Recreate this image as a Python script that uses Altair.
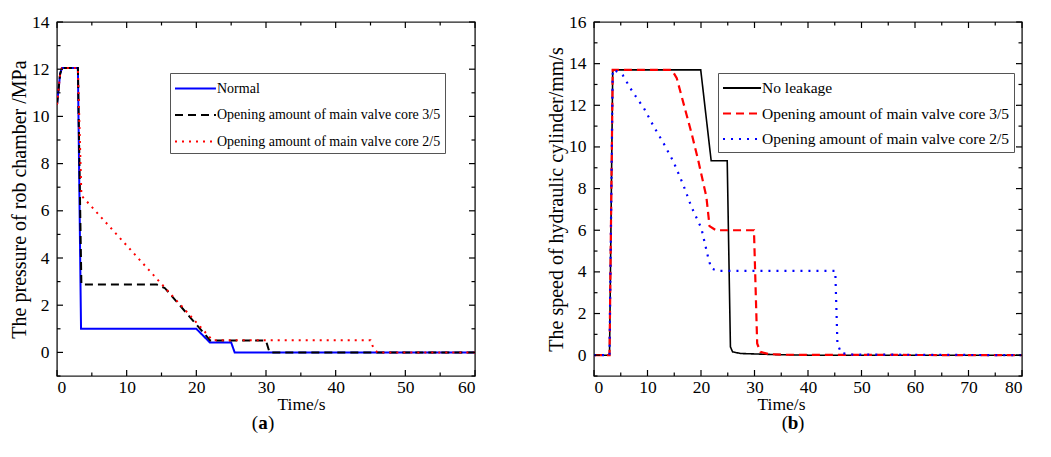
import altair as alt
import pandas as pd

FONT = "Liberation Serif"

# ---------------- Panel (a): pressure of rod chamber ----------------
a_series = ["Normal",
            "Opening amount of main valve core 3/5",
            "Opening amount of main valve core 2/5"]
a_colors = ["#0000ff", "#000000", "#ff0000"]
a_dashes = [[1, 0], [8, 5], [2, 5]]

a_t_normal = [0, 0.45, 0.7, 3.0, 3.45, 20.0, 21.95, 25.0, 25.5, 60]
a_p_normal = [10.5, 11.8, 12.05, 12.05, 1.0, 1.0, 0.42, 0.42, 0.0, 0.0]

a_t_35 = [0, 0.45, 0.7, 3.0, 3.5, 14.3, 15.5, 22.0, 30.0, 30.5, 60]
a_p_35 = [10.5, 11.8, 12.05, 12.05, 2.88, 2.88, 2.72, 0.5, 0.5, 0.0, 0.0]

a_t_25 = [0, 0.45, 0.7, 3.0, 3.5, 22.3, 45.0, 45.4, 46.0, 60]
a_p_25 = [10.5, 11.8, 12.05, 12.05, 6.65, 0.52, 0.52, 0.2, 0.0, 0.0]

a_x_major = [0, 10, 20, 30, 40, 50, 60]
a_x_minor = [5, 15, 25, 35, 45, 55]
a_y_major = [0, 2, 4, 6, 8, 10, 12, 14]
a_y_minor = [-1, 1, 3, 5, 7, 9, 11, 13]

# ---------------- Panel (b): speed of hydraulic cylinder ----------------
b_series = ["No leakage",
            "Opening amount of main valve core 3/5",
            "Opening amount of main valve core 2/5"]
b_colors = ["#000000", "#ff0000", "#0000ff"]
b_dashes = [[1, 0], [8, 5], [2, 6]]

b_t_nl = [0, 2.9, 3.5, 19.95, 21.9, 24.9, 25.5, 25.9, 27.4, 33.6, 40, 80]
b_v_nl = [0, 0, 13.7, 13.7, 9.34, 9.34, 0.4, 0.16, 0.08, 0.03, 0.0, 0.0]

b_t_35 = [0, 2.9, 3.5, 14.55, 15.47, 16.39, 18.23, 19.46, 21.0, 21.6, 22.8,
          29.9, 30.5, 31.1, 32.7, 36, 80]
b_v_35 = [0, 0, 13.7, 13.7, 13.3, 12.42, 10.66, 9.38, 7.61, 6.2, 6.0,
          6.0, 0.56, 0.16, 0.05, 0.02, 0]

b_t_25 = [0, 2.9, 3.5, 3.8, 5.34, 7.18, 9.33, 11.17, 13.0, 14.85, 16.7, 18.2,
          20.07, 21.3, 21.9, 23.1, 45.1, 45.5, 46.2, 48.3, 80]
b_v_25 = [0, 0, 13.7, 13.7, 13.46, 12.66, 11.86, 10.98, 10.18, 9.29, 8.17, 7.13,
          6.09, 4.73, 4.17, 4.05, 4.05, 0.56, 0.1, 0.03, 0]

b_x_major = [0, 10, 20, 30, 40, 50, 60, 70, 80]
b_x_minor = [5, 15, 25, 35, 45, 55, 65, 75]
b_y_major = [0, 2, 4, 6, 8, 10, 12, 14, 16]
b_y_minor = [-1, 1, 3, 5, 7, 9, 11, 13, 15]


def series_df(name, ts, vs):
    return pd.DataFrame({"t": ts, "v": vs, "series": name, "i": range(len(ts))})


def panel(series, colors, dashes, curves, widths, xdom, ydom, xmaj, xmin, ymaj, ymin,
          ytitle, W, H, legx, legy, leg_font, leg_sym, leg_path, leg_off, leg_row,
          cap, cap_x, title_x):
    legend = alt.Legend(title=None, orient="none", legendX=legx, legendY=legy,
                        strokeColor="#555555", padding=4, fillColor="white",
                        symbolType=leg_path, symbolSize=leg_sym, symbolStrokeWidth=2,
                        labelFont=FONT, labelFontSize=leg_font, labelColor="black",
                        labelLimit=500, rowPadding=leg_row, labelOffset=leg_off)
    xenc = alt.X("t:Q", scale=alt.Scale(domain=xdom, nice=False, zero=False),
                 axis=alt.Axis(values=xmaj, title="Time/s", ticks=False, grid=False,
                               domain=False, labelPadding=2, titleX=title_x, titleY=28.5,
                               titleBaseline="middle", titleFontSize=17.5))
    yenc = alt.Y("v:Q", scale=alt.Scale(domain=ydom, nice=False, zero=False),
                 axis=alt.Axis(values=ymaj, title=ytitle, ticks=False, grid=False,
                               domain=False, labelPadding=8, titlePadding=2,
                               titleFontSize=20))
    cenc = alt.Color("series:N", scale=alt.Scale(domain=series, range=colors), legend=legend)
    denc = alt.StrokeDash("series:N", scale=alt.Scale(domain=series, range=dashes), legend=legend)

    layers = []
    for (name, ts, vs), w in zip(curves, widths):
        layers.append(
            alt.Chart(series_df(name, ts, vs)).mark_line(strokeWidth=w, clip=True).encode(
                x=xenc, y=yenc, color=cenc, strokeDash=denc, order=alt.Order("i:Q"))
        )

    def ticks_x(vals, length, top):
        d = pd.DataFrame({"t": vals})
        if top:
            yv, y2v = 0, length
        else:
            yv, y2v = H, H - length
        return alt.Chart(d).mark_rule(color="black", strokeWidth=1.2).encode(
            x=xenc, y=alt.value(yv), y2=alt.value(y2v))

    def ticks_y(vals, length, right):
        d = pd.DataFrame({"v": vals})
        if right:
            xv, x2v = W, W - length
        else:
            xv, x2v = 0, length
        return alt.Chart(d).mark_rule(color="black", strokeWidth=1.2).encode(
            y=yenc, x=alt.value(xv), x2=alt.value(x2v))

    for top in (False, True):
        layers.append(ticks_x(xmaj, 6, top))
        layers.append(ticks_x(xmin, 3.5, top))
    for right in (False, True):
        layers.append(ticks_y(ymaj, 6, right))
        layers.append(ticks_y(ymin, 3.5, right))

    cy = H + 47
    layers.append(alt.Chart(pd.DataFrame({"s": ["("]})).mark_text(
        font=FONT, fontSize=19, align="right", baseline="middle", color="black").encode(
        text="s:N", x=alt.value(cap_x - 5), y=alt.value(cy)))
    layers.append(alt.Chart(pd.DataFrame({"s": [cap]})).mark_text(
        font=FONT, fontSize=19, fontWeight="bold", align="center", baseline="middle",
        color="black").encode(text="s:N", x=alt.value(cap_x), y=alt.value(cy)))
    layers.append(alt.Chart(pd.DataFrame({"s": [")"]})).mark_text(
        font=FONT, fontSize=19, align="left", baseline="middle", color="black").encode(
        text="s:N", x=alt.value(cap_x + 5), y=alt.value(cy)))

    return alt.layer(*layers).properties(width=W, height=H)


left = panel(a_series, a_colors, a_dashes,
             [(a_series[0], a_t_normal, a_p_normal),
              (a_series[1], a_t_35, a_p_35),
              (a_series[2], a_t_25, a_p_25)],
             [2.0, 2.0, 2.0], [0, 60], [-1, 14], a_x_major, a_x_minor, a_y_major, a_y_minor,
             "The pressure of rob chamber /MPa", 418, 354, 113, 51,
             14, 441, "M-1,0H2.9", 20, 7.5, "a", 206, 244)

right = panel(b_series, b_colors, b_dashes,
              [(b_series[0], b_t_nl, b_v_nl),
               (b_series[1], b_t_35, b_v_35),
               (b_series[2], b_t_25, b_v_25)],
              [1.6, 2.2, 2.2], [0, 80], [-1, 16], b_x_major, b_x_minor, b_y_major, b_y_minor,
              "The speed of  hydraulic cylinder/mm/s", 428, 354, 124, 51,
              15.5, 400, "M-1,0H2.8", 18, 5.5, "b", 199, 187)

chart = alt.hconcat(left, right, spacing=68).resolve_scale(
    x="independent", y="independent", color="independent", strokeDash="independent"
).resolve_legend(color="independent", strokeDash="independent").properties(
    padding={"left": 0, "top": 4, "right": 2, "bottom": 2},
    background="white"
).configure_view(stroke="#222222", strokeWidth=1.4).configure_axis(
    labelFont=FONT, labelFontSize=17.5, labelColor="black",
    titleFont=FONT, titleFontWeight="normal", titleColor="black"
)

chart.save("out.html", embed_options={"renderer": "svg", "actions": False})
